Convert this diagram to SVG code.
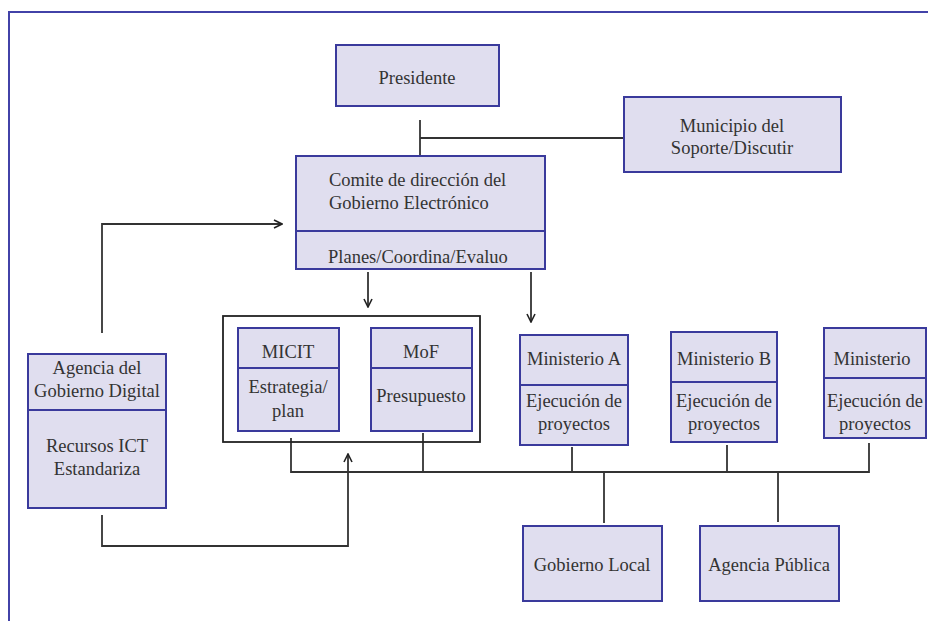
<svg xmlns="http://www.w3.org/2000/svg" width="928" height="621" viewBox="0 0 928 621" font-family="'Liberation Serif', 'DejaVu Serif', serif">
<defs>
<marker id="arr" viewBox="0 0 10 10" refX="9" refY="5" markerWidth="10" markerHeight="10" markerUnits="userSpaceOnUse" orient="auto">
<polyline points="1,1 9,5 1,9" fill="none" stroke="#222" stroke-width="1.6"/>
</marker>
</defs>
<style>
.box{fill:#e0deef;stroke:#3a3a9c;stroke-width:2}
.div{stroke:#3a3a9c;stroke-width:2}
.ln{fill:none;stroke:#333;stroke-width:1.8}
text{font-family:'Liberation Serif','DejaVu Serif',serif;font-size:18.5px;fill:#333;text-anchor:middle}
.l{text-anchor:start}
</style>
<rect x="9" y="12" width="930" height="620" fill="#fff" stroke="#4242a8" stroke-width="2"/>
<g id="connectors">
<polyline class="ln" points="420,120 420,156"/>
<polyline class="ln" points="420,138 624,138"/>
<polyline class="ln" points="102,333 102,224 282,224" marker-end="url(#arr)"/>
<polyline class="ln" points="368,272 368,307" marker-end="url(#arr)"/>
<polyline class="ln" points="531,272 531,322" marker-end="url(#arr)"/>
<polyline class="ln" points="291,438 291,472 869,472 869,443"/>
<polyline class="ln" points="423,433 423,472"/>
<polyline class="ln" points="572,447 572,472"/>
<polyline class="ln" points="727,445 727,472"/>
<polyline class="ln" points="604,472 604,523"/>
<polyline class="ln" points="778,472 778,522"/>
<polyline class="ln" points="102,515 102,546 348,546 348,454" marker-end="url(#arr)"/>
<rect x="223" y="316" width="257" height="126" fill="none" stroke="#222" stroke-width="1.8"/>
</g>
<g id="presidente">
<rect class="box" x="336" y="45" width="163" height="61"/>
<text x="417" y="84">Presidente</text>
</g>
<g id="municipio">
<rect class="box" x="624" y="97" width="217" height="75"/>
<text x="732" y="132">Municipio del</text>
<text x="732" y="154">Soporte/Discutir</text>
</g>
<g id="comite">
<rect class="box" x="296" y="156" width="249" height="113"/>
<line class="div" x1="296" y1="231" x2="545" y2="231"/>
<text class="l" x="329" y="186">Comite de dirección del</text>
<text class="l" x="329" y="209">Gobierno Electrónico</text>
<text class="l" x="328" y="263">Planes/Coordina/Evaluo</text>
</g>
<g id="agencia-digital">
<rect class="box" x="28" y="354" width="138" height="154"/>
<line class="div" x1="28" y1="410" x2="166" y2="410"/>
<text x="97" y="374">Agencia del</text>
<text x="97" y="397">Gobierno Digital</text>
<text x="97" y="452">Recursos ICT</text>
<text x="97" y="475">Estandariza</text>
</g>
<g id="micit">
<rect class="box" x="238" y="328" width="101" height="103"/>
<line class="div" x1="238" y1="368" x2="339" y2="368"/>
<text x="288" y="358">MICIT</text>
<text x="288" y="393">Estrategia/</text>
<text x="288" y="417">plan</text>
</g>
<g id="mof">
<rect class="box" x="371" y="328" width="101" height="103"/>
<line class="div" x1="371" y1="368" x2="472" y2="368"/>
<text x="421" y="358">MoF</text>
<text x="421" y="402">Presupuesto</text>
</g>
<g id="ministerio-a">
<rect class="box" x="520" y="335" width="108" height="110"/>
<line class="div" x1="520" y1="385" x2="628" y2="385"/>
<text x="574" y="365">Ministerio A</text>
<text x="574" y="407">Ejecución de</text>
<text x="574" y="430">proyectos</text>
</g>
<g id="ministerio-b">
<rect class="box" x="671" y="332" width="106" height="110"/>
<line class="div" x1="671" y1="382" x2="777" y2="382"/>
<text x="724" y="365">Ministerio B</text>
<text x="724" y="407">Ejecución de</text>
<text x="724" y="430">proyectos</text>
</g>
<g id="ministerio-c">
<rect class="box" x="824" y="328" width="102" height="110"/>
<line class="div" x1="824" y1="378" x2="926" y2="378"/>
<text x="872" y="365">Ministerio</text>
<text x="875" y="407">Ejecución de</text>
<text x="875" y="430">proyectos</text>
</g>
<g id="gobierno-local">
<rect class="box" x="523" y="526" width="139" height="75"/>
<text x="592" y="571">Gobierno Local</text>
</g>
<g id="agencia-publica">
<rect class="box" x="700" y="526" width="139" height="75"/>
<text x="769" y="571">Agencia Pública</text>
</g>
</svg>
